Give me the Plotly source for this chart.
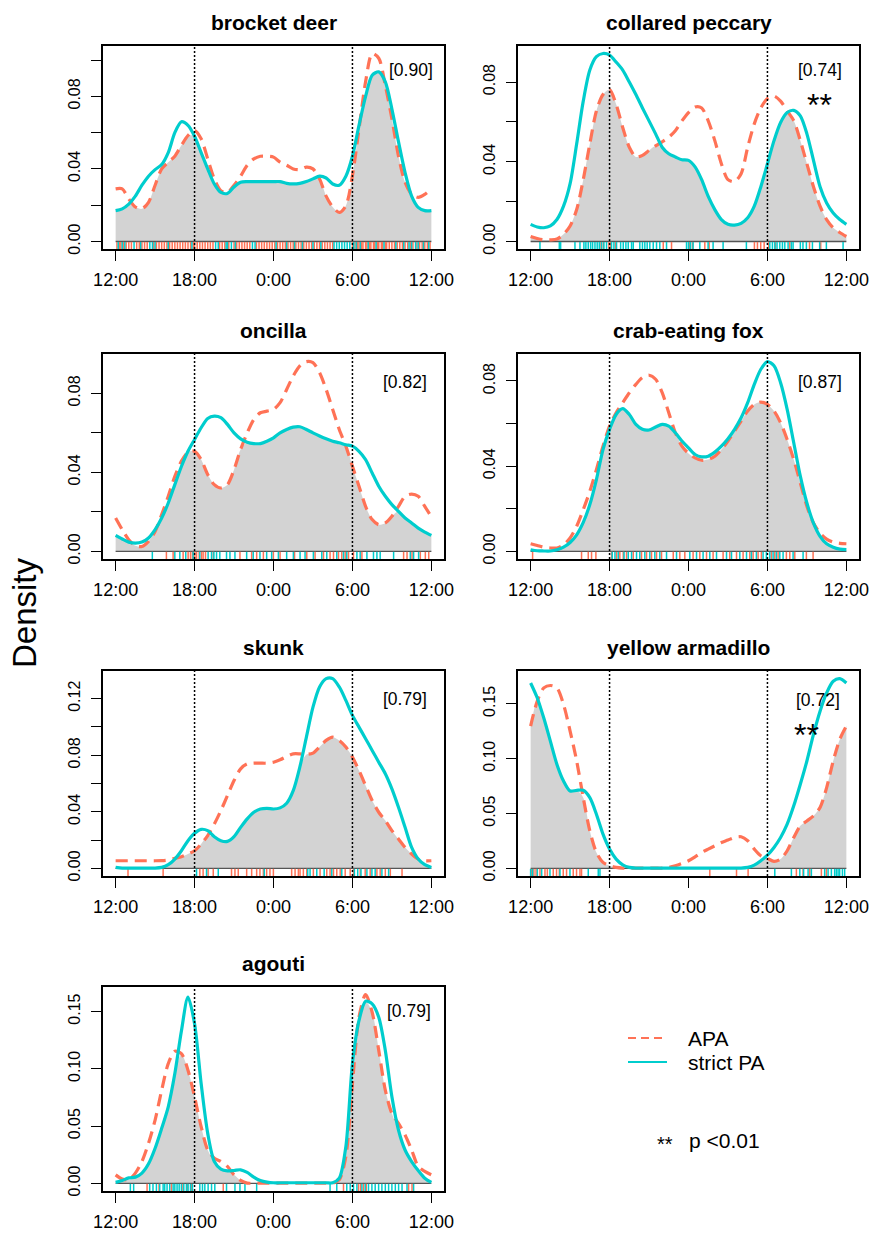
import plotly.graph_objects as go

# ---------------- data ----------------
HOURS = [i * 0.5 for i in range(49)]          # hours after 12:00 (0 = 12:00, 24 = next 12:00)
XTICK_VALS = [0, 6, 12, 18, 24]
XTICK_TEXT = ["12:00", "18:00", "0:00", "6:00", "12:00"]
SPECIES = ["brocket deer", "collared peccary", "oncilla", "crab-eating fox",
           "skunk", "yellow armadillo", "agouti"]
OVERLAP = ["[0.90]", "[0.74]", "[0.82]", "[0.87]", "[0.79]", "[0.72]", "[0.79]"]
SIGNIF = [False, True, False, False, False, True, False]

bd_apa = [0.029, 0.029, 0.0234, 0.019, 0.018, 0.0216, 0.031, 0.040, 0.0437, 0.047, 0.053, 0.0584, 0.0612,
          0.0566, 0.0455, 0.0345, 0.028, 0.027, 0.031, 0.036, 0.042, 0.0455, 0.047, 0.047, 0.0465, 0.0437,
          0.042, 0.040, 0.0396, 0.041, 0.040, 0.0345, 0.025, 0.019, 0.016, 0.0197, 0.0363, 0.062, 0.088,
          0.1036, 0.101, 0.086, 0.0677, 0.047, 0.0326, 0.026, 0.0243, 0.026, 0.029]
bd_pa = [0.017, 0.018, 0.0206, 0.025, 0.031, 0.036, 0.0396, 0.0424, 0.049, 0.060, 0.066, 0.064, 0.058,
         0.049, 0.040, 0.0317, 0.027, 0.0265, 0.030, 0.0326, 0.033, 0.033, 0.033, 0.033, 0.033, 0.033,
         0.032, 0.0317, 0.032, 0.033, 0.0345, 0.036, 0.035, 0.0317, 0.031, 0.036, 0.047, 0.064, 0.080,
         0.0916, 0.0935, 0.088, 0.073, 0.055, 0.038, 0.025, 0.0188, 0.017, 0.017]

cp_apa = [0.0025, 0.0015, 0.0008, 0.0008, 0.0012, 0.0036, 0.0078, 0.016, 0.031, 0.049, 0.0655, 0.0737,
          0.0762, 0.0688, 0.0572, 0.0473, 0.0424, 0.0432, 0.0457, 0.048, 0.050, 0.0523, 0.0556, 0.0605,
          0.0647, 0.0675, 0.067, 0.0605, 0.0506, 0.039, 0.031, 0.030, 0.034, 0.0473, 0.059, 0.067, 0.0717,
          0.073, 0.0704, 0.0655, 0.0606, 0.0506, 0.039, 0.0275, 0.0177, 0.011, 0.0069, 0.0045, 0.0025]
cp_pa = [0.0086, 0.0073, 0.0069, 0.0078, 0.011, 0.0177, 0.029, 0.049, 0.0704, 0.086, 0.0927, 0.0943,
         0.0935, 0.090, 0.086, 0.080, 0.0737, 0.067, 0.0605, 0.054, 0.0473, 0.044, 0.0424, 0.041, 0.0407,
         0.0374, 0.031, 0.0226, 0.016, 0.011, 0.0086, 0.0082, 0.0091, 0.0119, 0.0177, 0.0275, 0.039,
         0.0506, 0.0597, 0.0647, 0.0658, 0.063, 0.054, 0.0407, 0.0275, 0.0193, 0.0143, 0.011, 0.0086]

on_apa = [0.0169, 0.011, 0.0059, 0.0029, 0.0025, 0.0051, 0.0101, 0.0186, 0.0279, 0.038, 0.0457, 0.0502,
          0.0507, 0.0465, 0.0389, 0.0338, 0.0321, 0.0338, 0.0414, 0.0516, 0.060, 0.0668, 0.0702, 0.071,
          0.0719, 0.0753, 0.082, 0.0888, 0.0939, 0.0961, 0.0956, 0.0905, 0.082, 0.0719, 0.0617, 0.0533,
          0.0431, 0.033, 0.0228, 0.0161, 0.0135, 0.0144, 0.0178, 0.0228, 0.0279, 0.029, 0.0279, 0.0228, 0.0175]
on_pa = [0.0081, 0.0063, 0.0047, 0.0042, 0.0047, 0.0068, 0.011, 0.0169, 0.0245, 0.0338, 0.043, 0.0507,
         0.0567, 0.0626, 0.0673, 0.0685, 0.0677, 0.0643, 0.060, 0.057, 0.0553, 0.0546, 0.0546, 0.0558,
         0.0575, 0.060, 0.0617, 0.0629, 0.0631, 0.0617, 0.060, 0.0584, 0.057, 0.0558, 0.055, 0.054, 0.0533,
         0.0507, 0.0465, 0.0397, 0.033, 0.0279, 0.0237, 0.0203, 0.0169, 0.0144, 0.0118, 0.0098, 0.0081]

cf_apa = [0.0036, 0.0028, 0.002, 0.0016, 0.0016, 0.0031, 0.0063, 0.0118, 0.0196, 0.0282, 0.0384, 0.0494,
          0.0588, 0.0651, 0.0698, 0.0745, 0.0784, 0.0816, 0.0827, 0.0808, 0.0745, 0.0651, 0.0557, 0.0494,
          0.046, 0.0439, 0.0428, 0.0431, 0.0447, 0.0478, 0.0518, 0.0565, 0.0612, 0.0659, 0.069, 0.0701,
          0.069, 0.0659, 0.0604, 0.0525, 0.0431, 0.0322, 0.0212, 0.0133, 0.0086, 0.0058, 0.0044, 0.0038, 0.0036]
cf_pa = [0.0008, 0.0003, 0.0002, 0.0002, 0.0008, 0.002, 0.0042, 0.0078, 0.0136, 0.022, 0.0337, 0.0478,
         0.0573, 0.0643, 0.067, 0.0643, 0.0596, 0.0573, 0.057, 0.0584, 0.0596, 0.0588, 0.0557, 0.0518,
         0.0486, 0.0455, 0.0444, 0.0447, 0.0466, 0.0494, 0.0529, 0.0573, 0.0627, 0.0698, 0.0784, 0.0855,
         0.0891, 0.0871, 0.0792, 0.0667, 0.051, 0.0353, 0.0227, 0.0133, 0.0071, 0.0036, 0.002, 0.0011, 0.0008]

sk_apa = [0.0054, 0.0054, 0.0054, 0.0054, 0.0054, 0.0054, 0.0054, 0.0055, 0.0059, 0.0071, 0.0083, 0.0102,
          0.0125, 0.0172, 0.0232, 0.0314, 0.0409, 0.0515, 0.0621, 0.0704, 0.0739, 0.0744, 0.0744, 0.0744,
          0.0751, 0.0768, 0.0791, 0.081, 0.081, 0.0806, 0.0815, 0.0858, 0.0905, 0.0928, 0.0905, 0.0858,
          0.0787, 0.0692, 0.0586, 0.048, 0.0397, 0.0338, 0.0267, 0.0208, 0.0149, 0.0102, 0.0066, 0.0054, 0.0054]
sk_pa = [0.0007, 0.0002, 0.0002, 0.0002, 0.0002, 0.0002, 0.0002, 0.0007, 0.0026, 0.0066, 0.0125, 0.0196,
         0.0248, 0.0276, 0.0267, 0.0224, 0.0196, 0.0191, 0.0224, 0.029, 0.035, 0.0397, 0.042, 0.0425, 0.042,
         0.0428, 0.0461, 0.055, 0.0716, 0.0928, 0.114, 0.1283, 0.1342, 0.1342, 0.1283, 0.1188, 0.1082,
         0.0999, 0.0917, 0.0834, 0.0751, 0.0669, 0.0562, 0.0432, 0.0291, 0.0149, 0.0066, 0.0026, 0.0007]

ya_apa = [0.1297, 0.1524, 0.1645, 0.1667, 0.1645, 0.1494, 0.1252, 0.0979, 0.0645, 0.0342, 0.0145, 0.0055,
          0.0024, 0.0009, 0.0003, 0.0002, 0.0002, 0.0002, 0.0002, 0.0002, 0.0002, 0.0009, 0.0024, 0.0045,
          0.007, 0.0106, 0.0145, 0.0176, 0.0206, 0.0236, 0.0258, 0.0282, 0.0288, 0.0252, 0.0176, 0.0115,
          0.0091, 0.0064, 0.0085, 0.0161, 0.0282, 0.0388, 0.0433, 0.0479, 0.0555, 0.0736, 0.0979, 0.1176, 0.1297]
ya_pa = [0.169, 0.1555, 0.137, 0.116, 0.0948, 0.0797, 0.0706, 0.0712, 0.0712, 0.0645, 0.0494, 0.0312,
         0.0176, 0.0085, 0.0033, 0.0009, 0.0003, 0.0003, 0.0003, 0.0003, 0.0003, 0.0003, 0.0003, 0.0003,
         0.0003, 0.0003, 0.0003, 0.0003, 0.0003, 0.0003, 0.0003, 0.0003, 0.0003, 0.0009, 0.003, 0.007,
         0.0121, 0.0191, 0.0282, 0.0403, 0.057, 0.0767, 0.0979, 0.1221, 0.1433, 0.16, 0.1706, 0.173, 0.169]

ag_apa = [0.0075, 0.0038, 0.0032, 0.009, 0.0191, 0.035, 0.0553, 0.0814, 0.1045, 0.1153, 0.1132, 0.0988,
          0.0756, 0.0495, 0.0292, 0.022, 0.0191, 0.0148, 0.0075, 0.0026, 0.0003, 0.0003, 0.0003, 0.0003,
          0.0003, 0.0003, 0.0003, 0.0003, 0.0003, 0.0003, 0.0003, 0.0003, 0.0003, 0.0003, 0.0032, 0.0235,
          0.0872, 0.1451, 0.1648, 0.1494, 0.1161, 0.0814, 0.0611, 0.0524, 0.0423, 0.0292, 0.0148, 0.0105, 0.0075]
ag_pa = [0.0009, 0.0026, 0.0049, 0.0055, 0.009, 0.0171, 0.0307, 0.0481, 0.0669, 0.0959, 0.133, 0.1625,
         0.1393, 0.0872, 0.0437, 0.0191, 0.0125, 0.011, 0.0113, 0.0119, 0.0096, 0.0055, 0.0026, 0.0012,
         0.0006, 0.0006, 0.0006, 0.0006, 0.0006, 0.0006, 0.0006, 0.0006, 0.0006, 0.0006, 0.0046, 0.0321,
         0.1045, 0.1422, 0.159, 0.1567, 0.145, 0.116, 0.0756, 0.0466, 0.0292, 0.0191, 0.0113, 0.0046, 0.0009]

# rug (observation times, hours after 12:00)
bd_apa_rug = [0.1, 0.3, 0.4, 0.6, 0.8, 1.0, 1.2, 1.6, 1.8, 2.0, 2.2, 2.4, 2.9, 3.1, 3.3, 3.5, 3.7, 3.9, 4.1,
              4.3, 4.5, 4.7, 4.9, 5.1, 5.3, 5.5, 5.7, 5.9, 6.0, 6.2, 6.4, 6.6, 6.8, 7.0, 7.2, 7.4, 7.9, 8.1,
              8.3, 8.6, 9.0, 9.2, 9.4, 9.6, 9.8, 10.0, 10.2, 10.7, 10.9, 11.1, 11.3, 11.5, 11.7, 11.9, 12.1,
              12.3, 12.5, 12.7, 12.9, 13.1, 13.3, 13.5, 13.7, 13.9, 14.1, 14.3, 14.5, 14.7, 14.9, 15.1, 15.3,
              15.5, 15.7, 15.9, 16.1, 16.3, 16.5, 18.0, 18.2, 18.4, 18.5, 18.7, 18.8, 19.0, 19.1, 19.3, 19.4,
              19.6, 19.7, 19.9, 20.0, 20.2, 20.3, 20.5, 20.6, 20.8, 21.0, 21.2, 21.4, 21.6, 21.8, 22.0, 22.2,
              22.4, 22.6, 22.9, 23.1, 23.3, 23.5, 23.7, 23.9]
bd_pa_rug = [0.2, 0.5, 0.7, 1.4, 1.9, 2.6, 2.8, 3.0, 4.0, 5.8, 7.6, 7.8, 8.4, 8.5, 8.8, 9.1, 10.4, 10.6, 12.2,
             13.0, 13.6, 14.2, 15.0, 15.6, 16.6, 16.8, 17.0, 17.2, 17.4, 17.6, 17.8, 18.1, 18.3, 18.6, 19.2,
             19.8, 20.4, 21.3, 21.9, 22.3, 22.5, 22.8, 23.0, 23.4, 23.8]
cp_apa_rug = [5.27, 5.52, 5.95, 6.08, 6.45, 10.08, 10.71, 12.1, 12.3, 13.24, 13.57, 17.01, 17.24, 17.49,
              17.75, 18.1, 18.61, 19.7, 21.2, 22.05]
cp_pa_rug = [0.71, 2.18, 2.28, 3.37, 3.75, 4.05, 4.2, 4.38, 4.56, 4.71, 4.89, 5.06, 5.22, 5.39, 5.57, 5.77,
             6.15, 6.33, 6.53, 6.84, 7.04, 7.24, 7.42, 7.67, 7.8, 8.3, 8.5, 8.68, 8.86, 9.06, 9.32, 9.57,
             9.82, 10.33, 11.85, 12.0, 12.15, 12.35, 12.86, 13.49, 13.87, 14.63, 16.4, 18.18, 18.38, 18.56,
             18.73, 18.94, 19.14, 19.32, 19.57, 19.82, 19.95, 20.5, 20.7, 20.96, 21.42, 21.97, 22.48, 23.75]
on_apa_rug = [3.86, 4.37, 5.13, 5.51, 5.69, 5.84, 6.02, 6.15, 6.35, 6.53, 6.65, 6.83, 7.42, 9.45, 10.34,
              10.72, 11.23, 11.99, 12.5, 13.6, 14.53, 15.16, 15.8, 16.3, 16.56, 16.94, 17.19, 17.45, 17.7,
              18.08, 18.72, 21.89, 22.15, 22.53, 23.16, 23.54, 23.8]
on_pa_rug = [2.79, 4.5, 4.88, 5.33, 5.89, 6.4, 7.03, 7.29, 7.47, 7.67, 7.92, 8.43, 8.69, 9.07, 9.96, 10.46,
             10.97, 11.48, 11.86, 12.37, 13.0, 13.51, 14.02, 14.4, 15.03, 15.67, 16.05, 16.81, 17.32, 17.57,
             18.34, 18.59, 19.1, 19.6, 19.86, 20.11, 21.13, 22.4, 22.65, 23.03]
cf_apa_rug = [0.15, 3.87, 4.38, 4.63, 4.96, 6.15, 6.53, 6.78, 7.04, 7.29, 7.8, 8.43, 8.81, 9.19, 9.57, 9.95,
              10.84, 11.34, 11.72, 12.35, 12.86, 13.37, 13.87, 14.63, 15.14, 15.65, 16.15, 16.66, 16.91,
              17.29, 17.54, 18.3, 18.56, 18.81, 19.44, 19.7, 20.08, 20.96, 21.47]
cf_pa_rug = [6.2, 6.41, 6.66, 7.1, 7.42, 7.67, 8.05, 8.3, 8.68, 9.06, 9.44, 9.82, 10.33, 11.09, 12.1, 12.61,
             13.11, 13.62, 14.13, 14.89, 15.27, 15.9, 16.41, 16.78, 17.16, 17.67, 17.92, 18.18, 18.43, 18.68,
             18.94, 19.19, 19.95, 20.71]
sk_apa_rug = [0.94, 3.61, 6.4, 6.65, 7.03, 7.42, 8.81, 9.07, 9.32, 9.96, 10.34, 10.72, 10.97, 11.23, 11.48,
              11.73, 11.99, 13.38, 13.64, 13.89, 14.02, 14.27, 14.53, 15.03, 15.54, 16.05, 16.3, 16.56, 16.81,
              17.07, 17.45, 17.83, 18.08, 18.59, 18.97, 19.35, 19.86, 20.11, 20.5, 20.88, 21.77]
sk_pa_rug = [6.15, 6.91, 7.8, 11.3, 14.6, 14.78, 15.29, 15.85, 16.43, 17.19, 18.15, 18.4, 18.65, 19.1, 19.48,
             19.73, 20.24, 20.75]
ya_apa_rug = [0.08, 0.25, 0.41, 0.71, 1.09, 1.27, 1.72, 1.97, 2.18, 2.48, 2.73, 3.24, 3.49, 3.75, 3.87, 13.62,
              15.65, 16.53, 20.2, 20.71, 21.22, 22.1, 22.48]
ya_pa_rug = [0.0, 0.15, 0.51, 0.84, 1.47, 2.23, 2.99, 4.38, 5.14, 5.27, 18.56, 19.82, 20.46, 20.75, 21.09,
             21.34, 22.35, 22.61, 22.86, 23.11, 23.24, 23.37, 23.49, 23.7, 23.87]
ag_apa_rug = [2.39, 3.3, 4.24, 5.05, 5.45, 5.77, 8.18, 17.32, 18.46, 18.62, 18.84, 19.05, 22.27, 22.53]
ag_pa_rug = [1.12, 1.37, 2.59, 2.84, 3.1, 3.35, 3.61, 3.73, 3.91, 4.11, 4.37, 4.5, 4.67, 4.83, 5.0, 5.18, 5.38,
             5.51, 5.69, 5.84, 6.4, 6.6, 6.78, 7.03, 7.29, 7.54, 8.43, 9.07, 9.45, 9.83, 10.72, 16.3, 16.81,
             17.57, 17.83, 18.08, 18.34, 18.72, 18.97, 19.22, 19.48, 19.73, 19.99, 20.24, 20.5, 20.75, 21.0,
             21.26, 21.51, 21.77, 22.15, 22.65]

APA = [bd_apa, cp_apa, on_apa, cf_apa, sk_apa, ya_apa, ag_apa]
PA = [bd_pa, cp_pa, on_pa, cf_pa, sk_pa, ya_pa, ag_pa]
APA_RUG = [bd_apa_rug, cp_apa_rug, on_apa_rug, cf_apa_rug, sk_apa_rug, ya_apa_rug, ag_apa_rug]
PA_RUG = [bd_pa_rug, cp_pa_rug, on_pa_rug, cf_pa_rug, sk_pa_rug, ya_pa_rug, ag_pa_rug]
YTICK_STEP = [0.02, 0.02, 0.02, 0.02, 0.02, 0.05, 0.05]
YLABEL_EVERY = [2, 2, 2, 2, 2, 1, 1]

# ---------------- styling / layout ----------------
W, H = 870, 1233
APA_COL = "#FF7256"
PA_COL = "#00CDCD"
FILL_COL = "#D3D3D3"
FONT = "Liberation Sans, Arial, Helvetica, sans-serif"
COLS = [(103, 444), (518, 859)]
ROWS = [(46, 249), (354, 559), (671, 876), (987, 1191)]
POS = [(0, 0), (0, 1), (1, 0), (1, 1), (2, 0), (2, 1), (3, 0)]
ANN_POS = [(22.48, 0.88), (21.99, 0.88), (22.0, 0.865), (22.0, 0.865), (22.0, 0.863), (21.83, 0.86), (22.3, 0.88)]
STAR_POS = {1: (21.95, 0.71), 5: (20.96, 0.69)}
XPAD = 0.96
SMOOTH = 0.8

fig = go.Figure()
layout = dict(width=W, height=H, margin=dict(l=0, r=0, t=0, b=0, autoexpand=False),
              paper_bgcolor="white", plot_bgcolor="white", showlegend=False,
              font=dict(family=FONT, color="black"))
annotations = []
shapes = []

for i, name in enumerate(SPECIES):
    r, c = POS[i]
    x0, x1 = COLS[c]
    y0, y1 = ROWS[r]
    k = "" if i == 0 else str(i + 1)
    xa, ya = "x" + k, "y" + k
    apa, pa = APA[i], PA[i]
    m = max(max(apa), max(pa))
    lo, hi = -0.04 * m, 1.04 * m
    overlap = [min(a, b) for a, b in zip(apa, pa)]

    fig.add_trace(go.Scatter(x=HOURS, y=overlap, mode="lines", fill="tozeroy", fillcolor=FILL_COL,
                             line=dict(width=0, shape="spline", smoothing=SMOOTH), xaxis=xa, yaxis=ya,
                             hoverinfo="skip"))
    fig.add_trace(go.Scatter(x=[0, 24], y=[0, 0], mode="lines", line=dict(color="#555555", width=1.3),
                             xaxis=xa, yaxis=ya, hoverinfo="skip"))
    rug_top = lo + 0.035 * (hi - lo)
    for rug, col in ((APA_RUG[i], APA_COL), (PA_RUG[i], PA_COL)):
        rx, ry = [], []
        for t in rug:
            rx += [t, t, None]
            ry += [lo, rug_top, None]
        fig.add_trace(go.Scatter(x=rx, y=ry, mode="lines", line=dict(color=col, width=1.5),
                                 xaxis=xa, yaxis=ya, hoverinfo="skip"))
    fig.add_trace(go.Scatter(x=HOURS, y=apa, mode="lines",
                             line=dict(color=APA_COL, width=3.2, dash="12px,7px", shape="spline", smoothing=SMOOTH),
                             xaxis=xa, yaxis=ya))
    fig.add_trace(go.Scatter(x=HOURS, y=pa, mode="lines",
                             line=dict(color=PA_COL, width=3.2, shape="spline", smoothing=SMOOTH),
                             xaxis=xa, yaxis=ya))

    step = YTICK_STEP[i]
    nt = int(hi / step + 1e-9)
    tv = [round(j * step, 3) for j in range(nt + 1)]
    tt = [("%.2f" % v) if j % YLABEL_EVERY[i] == 0 else "" for j, v in enumerate(tv)]

    axis_common = dict(showline=True, mirror=True, linecolor="black", linewidth=1.6,
                       showgrid=False, zeroline=False, ticks="outside", ticklen=10, tickwidth=1.4,
                       tickcolor="black", automargin=False)
    layout["xaxis" + k] = dict(axis_common, domain=[x0 / W, x1 / W], range=[-XPAD, 24 + XPAD],
                               anchor=ya, tickvals=XTICK_VALS, ticktext=XTICK_TEXT,
                               ticklabelstandoff=4, tickfont=dict(size=18, family=FONT))
    layout["yaxis" + k] = dict(axis_common, domain=[1 - y1 / H, 1 - y0 / H], range=[lo, hi],
                               anchor=xa, tickvals=tv, ticktext=tt, tickangle=-90,
                               ticklabelstandoff=5, tickfont=dict(size=16, family=FONT))

    for hv in (6, 18):
        shapes.append(dict(type="line", xref=xa, yref=ya + " domain", x0=hv, x1=hv, y0=0, y1=1,
                           line=dict(color="black", width=1.5, dash="2px,2px")))

    annotations.append(dict(text="<b>%s</b>" % name, x=(x0 + x1) / 2 / W, y=1 - (y0 - 23.5) / H,
                            xref="paper", yref="paper", showarrow=False, xanchor="center",
                            yanchor="middle", font=dict(size=21, family=FONT)))
    ax_, ay_ = ANN_POS[i]
    annotations.append(dict(text=OVERLAP[i], x=ax_, y=ay_, xref=xa, yref=ya + " domain",
                            showarrow=False, xanchor="center", yanchor="middle",
                            font=dict(size=17.5, family=FONT)))
    if SIGNIF[i]:
        sx, sy = STAR_POS[i]
        annotations.append(dict(text="**", x=sx, y=sy, xref=xa, yref=ya + " domain",
                                showarrow=False, xanchor="center", yanchor="middle",
                                font=dict(size=32, family=FONT)))

# y label
annotations.append(dict(text="Density", x=24 / W, y=1 - 613 / H, xref="paper", yref="paper",
                        showarrow=False, textangle=-90, xanchor="center", yanchor="middle",
                        font=dict(size=33, family=FONT)))
# legend
shapes.append(dict(type="line", xref="paper", yref="paper", x0=628 / W, x1=666 / W,
                   y0=1 - 1038 / H, y1=1 - 1038 / H, line=dict(color=APA_COL, width=2, dash="8px,5px")))
shapes.append(dict(type="line", xref="paper", yref="paper", x0=628 / W, x1=667 / W,
                   y0=1 - 1062 / H, y1=1 - 1062 / H, line=dict(color=PA_COL, width=2)))
for txt, yy in (("APA", 1038), ("strict PA", 1062)):
    annotations.append(dict(text=txt, x=686 / W, y=1 - yy / H, xref="paper", yref="paper",
                            showarrow=False, xanchor="left", yanchor="middle",
                            font=dict(size=21, family=FONT)))
annotations.append(dict(text="**", x=665 / W, y=1 - 1144 / H, xref="paper", yref="paper",
                        showarrow=False, xanchor="center", yanchor="middle", font=dict(size=20, family=FONT)))
annotations.append(dict(text="p <0.01", x=687 / W, y=1 - 1140 / H, xref="paper", yref="paper",
                        showarrow=False, xanchor="left", yanchor="middle", font=dict(size=21, family=FONT)))

layout["annotations"] = annotations
layout["shapes"] = shapes
fig.update_layout(**layout)
fig.write_html("out.html", config={"displayModeBar": False},
               post_script="document.body.style.margin='0px';document.body.style.overflow='hidden';")
